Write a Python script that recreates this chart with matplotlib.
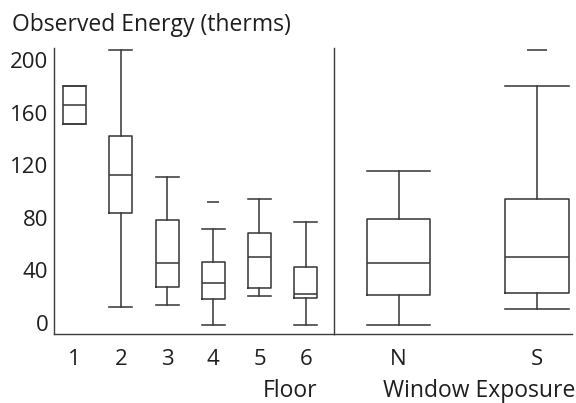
import matplotlib
matplotlib.use('Agg')
import matplotlib.pyplot as plt

plt.rcParams['font.family'] = ['Open Sans', 'DejaVu Sans']

# boxplot stats (therms)
floor_labels = ['1', '2', '3', '4', '5', '6']
floor_whislo = [151.6, 11.9, 13.7, -1.3, 20.5, -1.3]
floor_q1 = [151.6, 83.6, 27.6, 18.0, 26.4, 18.8]
floor_med = [166.0, 112.5, 45.4, 30.7, 50.4, 22.3]
floor_q3 = [180.0, 142.0, 78.3, 46.4, 68.2, 42.6]
floor_whishi = [180.0, 207.6, 111.0, 71.2, 94.0, 77.0]
floor_fliers = [[], [], [], [92.0], [], []]

exp_labels = ['N', 'S']
exp_whislo = [-1.3, 10.6]
exp_q1 = [21.3, 22.6]
exp_med = [45.4, 50.2]
exp_q3 = [79.3, 94.0]
exp_whishi = [115.8, 180.2]
exp_fliers = [[], [207.3]]

yticks = [0, 40, 80, 120, 160, 200]

col = '#3c3c3c'
txt = '#1e1e1e'
fs = 16.5
tfs = 16


def make_stats(labels, lo, q1, med, q3, hi, fl):
    stats = []
    for i in range(len(labels)):
        stats.append({'label': labels[i], 'whislo': lo[i], 'q1': q1[i], 'med': med[i],
                      'q3': q3[i], 'whishi': hi[i], 'fliers': fl[i]})
    return stats


def style(ax):
    ax.set_ylim(-8.4, 209.1)
    for s in ['top', 'right']:
        ax.spines[s].set_visible(False)
    for s in ['left', 'bottom']:
        ax.spines[s].set_color(col)
        ax.spines[s].set_linewidth(1.0)
    ax.tick_params(length=0, labelsize=tfs, colors=txt)
    ax.tick_params(axis='x', pad=10.5)
    ax.tick_params(axis='y', pad=4)


fig = plt.figure(figsize=(5.76, 4.03), dpi=100)
bottom = (403 - 334) / 403
height = (334 - 48) / 403
ax1 = fig.add_axes([54 / 576, bottom, 280 / 576, height])
ax2 = fig.add_axes([334 / 576, bottom, 238 / 576, height])

lp = dict(color=col, linewidth=1.15)

w1 = 0.5
ax1.bxp(make_stats(floor_labels, floor_whislo, floor_q1, floor_med, floor_q3, floor_whishi, floor_fliers),
        positions=range(1, 7), widths=w1, capwidths=w1,
        boxprops=lp, whiskerprops=lp, capprops=lp, medianprops=lp,
        flierprops=dict(marker='_', markersize=8, markeredgecolor=col, markeredgewidth=1.15))
ax1.set_xlim(0.552, 6.613)
ax1.set_yticks(yticks)
style(ax1)

w2 = 0.46
ax2.bxp(make_stats(exp_labels, exp_whislo, exp_q1, exp_med, exp_q3, exp_whishi, exp_fliers),
        positions=[1, 2], widths=w2, capwidths=w2,
        boxprops=lp, whiskerprops=lp, capprops=lp, medianprops=lp,
        flierprops=dict(marker='_', markersize=14, markeredgecolor=col, markeredgewidth=1.15))
ax2.set_xlim(0.534, 2.253)
ax2.set_yticks([])
style(ax2)

fig.text(12 / 576, 1 - 25 / 403, 'Observed Energy (therms)', fontsize=fs, va='center', ha='left', color=txt)
fig.text(317 / 576, 1 - 391 / 403, 'Floor', fontsize=fs, va='center', ha='right', color=txt)
fig.text(383 / 576, 1 - 391 / 403, 'Window Exposure', fontsize=fs, va='center', ha='left', color=txt)

fig.savefig('out.png', dpi=100)
